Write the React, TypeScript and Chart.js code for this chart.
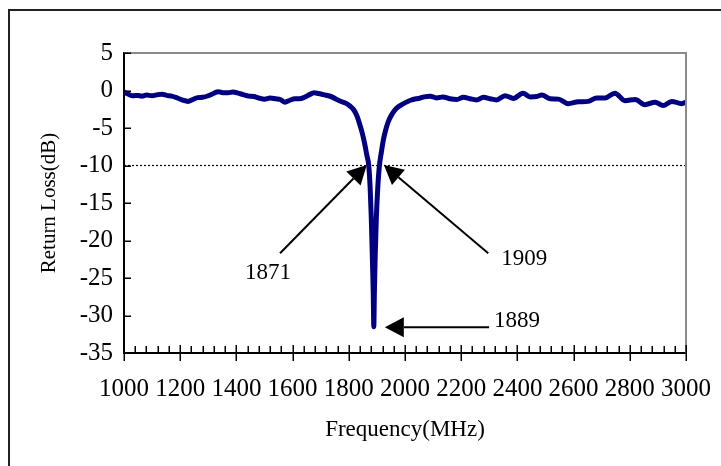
import React, { useEffect, useRef } from "react";
import { Chart, registerables } from "chart.js";

Chart.register(...registerables);

// ---- Data ----
const freqMHz = [
  1000, 1016, 1032, 1048, 1064, 1080, 1100, 1120, 1136, 1152, 1170, 1190, 1210, 1228, 1245, 1262,
  1280, 1300, 1318, 1335, 1352, 1370, 1388, 1405, 1424, 1444, 1462, 1480, 1500, 1520, 1540, 1556,
  1573, 1590, 1608, 1625, 1642, 1660, 1676, 1692, 1710, 1728, 1745, 1760, 1775, 1792, 1805, 1818,
  1828, 1838, 1848, 1856, 1864, 1871, 1876, 1880, 1884, 1887, 1889, 1891, 1894, 1898, 1903, 1909,
  1916, 1923, 1931, 1940, 1950, 1962, 1975, 1990, 2005, 2020, 2040, 2055, 2068, 2090, 2112, 2135,
  2160, 2184, 2208, 2232, 2255, 2279, 2303, 2326, 2356, 2386, 2420, 2445, 2469, 2487, 2516, 2546,
  2581, 2617, 2652, 2682, 2712, 2747, 2783, 2819, 2854, 2890, 2919, 2949, 2985, 3000,
];
const returnLossDB = [
  -0.2, -0.5, -0.7, -0.65, -0.75, -0.6, -0.7, -0.55, -0.5, -0.65, -0.75, -1.0, -1.3, -1.45, -1.2, -0.95,
  -0.9, -0.7, -0.4, -0.15, -0.3, -0.3, -0.2, -0.35, -0.55, -0.75, -0.8, -1.0, -1.15, -1.0, -1.1, -1.2,
  -1.55, -1.3, -1.1, -1.1, -0.9, -0.55, -0.3, -0.4, -0.55, -0.7, -0.95, -1.25, -1.5, -1.75, -2.1, -2.6,
  -3.3, -4.4, -5.7, -7.0, -8.6, -10, -13, -17, -22.5, -27, -31.5, -27, -22, -17, -13, -10,
  -8.2, -6.6, -5.3, -4.2, -3.4, -2.7, -2.2, -1.85, -1.55, -1.3, -1.1, -1.0, -0.85, -0.75, -1.0, -0.85,
  -1.1, -1.2, -0.9, -1.1, -1.25, -0.9, -1.1, -1.25, -0.7, -1.05, -0.35, -0.85, -0.8, -0.6, -1.1, -1.15,
  -1.75, -1.5, -1.45, -1.0, -1.0, -0.35, -1.35, -1.2, -1.9, -1.55, -2.0, -1.45, -1.75, -1.55,
];
const refLineFreqs = [1000, 3000];
const refLineLevels = [-10, -10];

const xTicks = [1000, 1200, 1400, 1600, 1800, 2000, 2200, 2400, 2600, 2800, 3000];
const xMinorStep = 40;
const yTicks = [5, 0, -5, -10, -15, -20, -25, -30, -35];

const markerFreqs = [1871, 1909, 1889];
const markerLevels = [-10, -10, -31.5];
const markerLabels = ["1871", "1909", "1889"];

const SERIF = "'Liberation Serif', 'Times New Roman', serif";

// arrow geometry (pixels relative to marker point)
const arrowLayout = [
  { tip: [-2, -0.5], tail: [-86.7, 88.3], label: [-12, 20], align: "center" },
  { tip: [4.5, -0.5], tail: [104.3, 88.3], label: [13, 6], align: "left" },
  { tip: [11, 0.5], tail: [104.3, 0], label: [5, -6], align: "left" },
];

const decorPlugin = {
  id: "decor",
  afterDraw(chart: any) {
    const { ctx, chartArea, scales } = chart;
    const xs = scales.x;
    const ys = scales.y;
    const { left, right, top, bottom } = chartArea;
    ctx.save();

    // outer frame (top & left)
    ctx.strokeStyle = "#222";
    ctx.lineWidth = 2;
    ctx.beginPath();
    ctx.moveTo(9, 466);
    ctx.lineTo(9, 10);
    ctx.lineTo(721, 10);
    ctx.stroke();

    // plot area border top/right (gray)
    ctx.strokeStyle = "#8a8a8a";
    ctx.lineWidth = 2;
    ctx.beginPath();
    ctx.moveTo(left, top);
    ctx.lineTo(right, top);
    ctx.lineTo(right, bottom);
    ctx.stroke();

    // ticks
    ctx.strokeStyle = "#000";
    ctx.lineWidth = 1.5;
    ctx.beginPath();
    for (const v of yTicks) {
      const py = Math.round(ys.getPixelForValue(v)) + 0.25;
      ctx.moveTo(left, py);
      ctx.lineTo(left + 7, py);
    }
    for (let v = xTicks[0]; v <= xTicks[xTicks.length - 1]; v += xMinorStep) {
      const px = Math.round(xs.getPixelForValue(v)) + 0.25;
      if ((v - xTicks[0]) % 200 === 0) {
        ctx.moveTo(px, bottom - 8);
        ctx.lineTo(px, bottom + 8);
      } else {
        ctx.moveTo(px, bottom - 7);
        ctx.lineTo(px, bottom);
      }
    }
    ctx.stroke();

    // arrows + labels
    ctx.fillStyle = "#000";
    ctx.strokeStyle = "#000";
    ctx.font = `23px ${SERIF}`;
    ctx.textBaseline = "middle";
    markerFreqs.forEach((f, i) => {
      const lay = arrowLayout[i];
      const bx = xs.getPixelForValue(f);
      const by = ys.getPixelForValue(markerLevels[i]);
      const tx = bx + lay.tip[0];
      const ty = by + lay.tip[1];
      const sx = tx + lay.tail[0];
      const sy = ty + lay.tail[1];
      const dx = tx - sx;
      const dy = ty - sy;
      const len = Math.hypot(dx, dy);
      const ux = dx / len;
      const uy = dy / len;
      const hl = 19;
      const hw = 10;
      const baseX = tx - ux * hl;
      const baseY = ty - uy * hl;
      ctx.lineWidth = 2;
      ctx.beginPath();
      ctx.moveTo(sx, sy);
      ctx.lineTo(baseX, baseY);
      ctx.stroke();
      ctx.beginPath();
      ctx.moveTo(tx, ty);
      ctx.lineTo(baseX - uy * hw, baseY + ux * hw);
      ctx.lineTo(baseX + uy * hw, baseY - ux * hw);
      ctx.closePath();
      ctx.fill();
      ctx.textAlign = lay.align as CanvasTextAlign;
      ctx.fillText(markerLabels[i], sx + lay.label[0], sy + lay.label[1]);
    });

    ctx.restore();
  },
};

export default function App() {
  const ref = useRef<HTMLCanvasElement | null>(null);

  useEffect(() => {
    if (!ref.current) return;
    const curve = freqMHz.map((f, i) => ({ x: f, y: returnLossDB[i] }));
    const refLine = refLineFreqs.map((f, i) => ({ x: f, y: refLineLevels[i] }));
    const chart = new Chart(ref.current, {
      type: "line",
      data: {
        datasets: [
          {
            label: "Return Loss",
            data: curve,
            borderColor: "#000080",
            borderWidth: 5,
            pointRadius: 0,
            cubicInterpolationMode: "monotone",
            borderCapStyle: "round",
            borderJoinStyle: "round",
            fill: false,
            order: 1,
          },
          {
            label: "-10 dB",
            data: refLine,
            borderColor: "#000",
            borderWidth: 1.2,
            borderDash: [2, 2],
            pointRadius: 0,
            fill: false,
            order: 2,
          },
        ],
      },
      options: {
        responsive: false,
        animation: false,
        devicePixelRatio: 1,
        layout: { padding: { left: 0, right: 35, top: 53, bottom: 0 } },
        plugins: { legend: { display: false }, tooltip: { enabled: false } },
        scales: {
          x: {
            type: "linear",
            min: 1000,
            max: 3000,
            afterFit: (s: any) => {
              s.height = 113;
              s.paddingLeft = 0;
              s.paddingRight = 0;
            },
            afterBuildTicks: (s: any) => {
              s.ticks = xTicks.map((v) => ({ value: v }));
            },
            ticks: {
              autoSkip: false,
              maxRotation: 0,
              padding: 21,
              color: "#000",
              font: { family: SERIF, size: 25 },
              callback: (v: any) => String(v),
            },
            grid: { display: true, drawOnChartArea: false, drawTicks: false },
            border: { display: true, color: "#000", width: 2 },
            title: {
              display: true,
              text: "Frequency(MHz)",
              color: "#000",
              font: { family: SERIF, size: 23 },
              padding: { top: 0, bottom: 22 },
            },
          },
          y: {
            type: "linear",
            min: -35,
            max: 5,
            afterFit: (s: any) => {
              s.width = 124;
              s.paddingTop = 0;
              s.paddingBottom = 0;
            },
            afterBuildTicks: (s: any) => {
              s.ticks = yTicks.map((v) => ({ value: v }));
            },
            ticks: {
              autoSkip: false,
              padding: 11,
              color: "#000",
              font: { family: SERIF, size: 25 },
              callback: (v: any) => String(v),
            },
            grid: { display: true, drawOnChartArea: false, drawTicks: false },
            border: { display: true, color: "#000", width: 2 },
            title: {
              display: true,
              text: "Return Loss(dB)",
              color: "#000",
              font: { family: SERIF, size: 21 },
              padding: { top: 37, bottom: 0 },
            },
          },
        },
      },
      plugins: [decorPlugin],
    });
    return () => chart.destroy();
  }, []);

  return (
    <div style={{ position: "absolute", left: 0, top: 0, width: 721, height: 466, background: "#fff" }}>
      <canvas ref={ref} width={721} height={466} style={{ display: "block", width: 721, height: 466 }} />
    </div>
  );
}
